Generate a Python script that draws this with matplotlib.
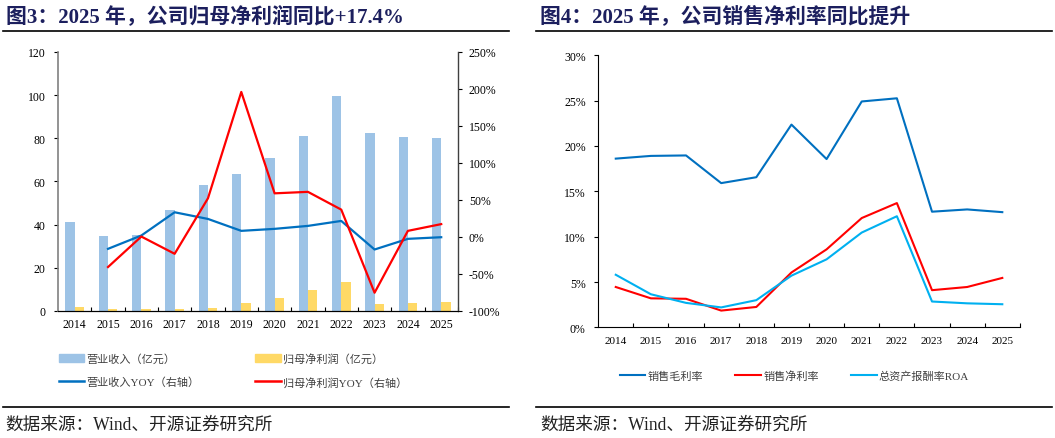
import numpy as np
import matplotlib
matplotlib.use('Agg')
import matplotlib.pyplot as plt
from matplotlib.patches import Patch
from matplotlib.lines import Line2D
from matplotlib.ticker import FuncFormatter

plt.rcParams['font.family'] = ['Liberation Serif', 'Noto Sans CJK SC']
plt.rcParams['axes.unicode_minus'] = False

# data
years = ['2014', '2015', '2016', '2017', '2018', '2019', '2020', '2021', '2022', '2023', '2024', '2025']
revenue = [41.2, 34.7, 35.4, 47.0, 58.5, 63.5, 70.7, 81.0, 99.4, 82.6, 80.4, 80.1]
net_profit = [1.8, 1.1, 1.1, 0.8, 1.2, 3.9, 6.2, 9.9, 13.6, 3.4, 3.7, 4.3]
revenue_yoy = [np.nan, -16.0, 2.0, 33.4, 24.4, 8.3, 11.0, 15.0, 21.7, -16.9, -2.5, -0.3]
profit_yoy = [np.nan, -40.6, 0.6, -22.7, 52.3, 196.0, 59.0, 61.0, 37.0, -75.3, 8.3, 17.4]

gross_margin = [18.6, 18.9, 18.95, 15.9, 16.55, 22.35, 18.55, 24.9, 25.25, 12.75, 13.0, 12.7]
net_margin = [4.45, 3.2, 3.15, 1.85, 2.25, 6.05, 8.6, 12.05, 13.7, 4.1, 4.45, 5.45]
roa = [5.8, 3.65, 2.7, 2.2, 3.0, 5.7, 7.5, 10.45, 12.25, 2.85, 2.65, 2.55]

c_bar1 = '#9DC3E6'
c_bar2 = '#FFD966'
c_blue = '#0070C0'
c_red = '#FF0000'
c_cyan = '#00B0F0'
c_title = '#1C1F5E'

fig = plt.figure(figsize=(10.55, 4.39), dpi=100)
x = np.arange(len(years))
bounds = np.arange(-0.5, len(years), 1.0)
legend_font = {'family': ['Liberation Serif', 'Noto Sans CJK SC'], 'size': 8}

# ---------- left chart ----------
ax1 = fig.add_axes([0.055, 0.2893, 0.379, 0.590])
ax1.bar(x - 0.14, revenue, width=0.28, color=c_bar1, zorder=1)
ax1.bar(x + 0.14, net_profit, width=0.28, color=c_bar2, zorder=1)
ax1.set_xlim(-0.5, 11.5)
ax1.set_ylim(0, 120)
ax1.set_yticks(np.arange(0, 121, 20))
ax1.set_xticks(x)
ax1.set_xticklabels(years)
ax1.set_xticks(bounds[1:], minor=True)
ax1.tick_params(axis='x', which='major', length=0, labelsize=8.5, pad=5)
ax1.tick_params(axis='x', which='minor', length=3, direction='in', width=0.8)
ax1.tick_params(axis='y', labelsize=8.5, length=3, direction='out', width=0.8, pad=6)
ax1.spines['top'].set_visible(False)
ax1.spines['right'].set_visible(False)
ax1.spines['left'].set_color('#808080')
ax1.spines['left'].set_linewidth(1.2)

ax2 = ax1.twinx()
ax2.plot(x, revenue_yoy, color=c_blue, linewidth=1.6, zorder=3)
ax2.plot(x, profit_yoy, color=c_red, linewidth=1.6, zorder=3)
ax2.set_ylim(-100, 250)
ax2.set_yticks(np.arange(-100, 251, 50))
ax2.yaxis.set_major_formatter(FuncFormatter(lambda v, p: f'{v:.0f}%'))
ax2.tick_params(axis='y', labelsize=8.5, length=3, direction='out', width=0.8, pad=5)
ax2.spines['top'].set_visible(False)
ax2.spines['left'].set_visible(False)
ax2.spines['right'].set_color('#404040')
ax2.spines['right'].set_linewidth(1.0)

handles1 = [Patch(color=c_bar1), Patch(color=c_bar2),
            Line2D([], [], color=c_blue, linewidth=1.8), Line2D([], [], color=c_red, linewidth=1.8)]
labels1 = ['营业收入（亿元）', '归母净利润（亿元）', '营业收入YOY（右轴）', '归母净利润YOY（右轴）']
order = [0, 2, 1, 3]
fig.legend([handles1[i] for i in order], [labels1[i] for i in order], ncol=2,
           loc='upper left', bbox_to_anchor=(0.046, 0.217), frameon=False,
           prop=legend_font, labelcolor='#404040', handlelength=2.3, handleheight=0.7,
           handletextpad=0.2, columnspacing=5.0, labelspacing=1.15)

# ---------- right chart ----------
ax3 = fig.add_axes([0.567, 0.252, 0.3997, 0.620])
ax3.plot(x, gross_margin, color=c_blue, linewidth=1.5, label='销售毛利率')
ax3.plot(x, net_margin, color=c_red, linewidth=1.5, label='销售净利率')
ax3.plot(x, roa, color=c_cyan, linewidth=1.5, label='总资产报酬率ROA')
ax3.set_xlim(-0.5, 11.5)
ax3.set_ylim(0, 30)
ax3.set_yticks(np.arange(0, 31, 5))
ax3.yaxis.set_major_formatter(FuncFormatter(lambda v, p: f'{v:.0f}%'))
ax3.set_xticks(x)
ax3.set_xticklabels(years)
ax3.set_xticks(bounds[1:], minor=True)
ax3.tick_params(axis='x', which='major', length=0, labelsize=8, pad=6)
ax3.tick_params(axis='x', which='minor', length=3, direction='in', width=0.8)
ax3.tick_params(axis='y', labelsize=8.5, length=3, direction='out', width=0.8, pad=6)
ax3.spines['top'].set_visible(False)
ax3.spines['right'].set_visible(False)
ax3.legend(ncol=3, loc='upper left', bbox_to_anchor=(0.578, 0.177),
           bbox_transform=fig.transFigure, frameon=False, prop=legend_font,
           labelcolor='#404040', handlelength=2.3, handletextpad=0.2, columnspacing=2.9)

# ---------- titles, rules, sources ----------
fig.text(0.006, 0.963, '图3：2025 年，公司归母净利润同比+17.4%', fontsize=15,
         fontweight='bold', color=c_title, va='center', ha='left')
fig.text(0.512, 0.963, '图4：2025 年，公司销售净利率同比提升', fontsize=15,
         fontweight='bold', color=c_title, va='center', ha='left')
fig.add_artist(Line2D([0.003, 0.482], [0.927, 0.927], color='black', linewidth=1.2,
                      transform=fig.transFigure))
fig.add_artist(Line2D([0.508, 0.997], [0.927, 0.927], color='black', linewidth=1.2,
                      transform=fig.transFigure))
fig.add_artist(Line2D([0.003, 0.482], [0.071, 0.071], color='black', linewidth=1.2,
                      transform=fig.transFigure))
fig.add_artist(Line2D([0.508, 0.997], [0.071, 0.071], color='black', linewidth=1.2,
                      transform=fig.transFigure))
fig.text(0.005, 0.032, '数据来源：Wind、开源证券研究所', fontsize=12.7, color='#222222',
         va='center', ha='left')
fig.text(0.512, 0.032, '数据来源：Wind、开源证券研究所', fontsize=12.7, color='#222222',
         va='center', ha='left')

fig.savefig('out.png', dpi=100)
